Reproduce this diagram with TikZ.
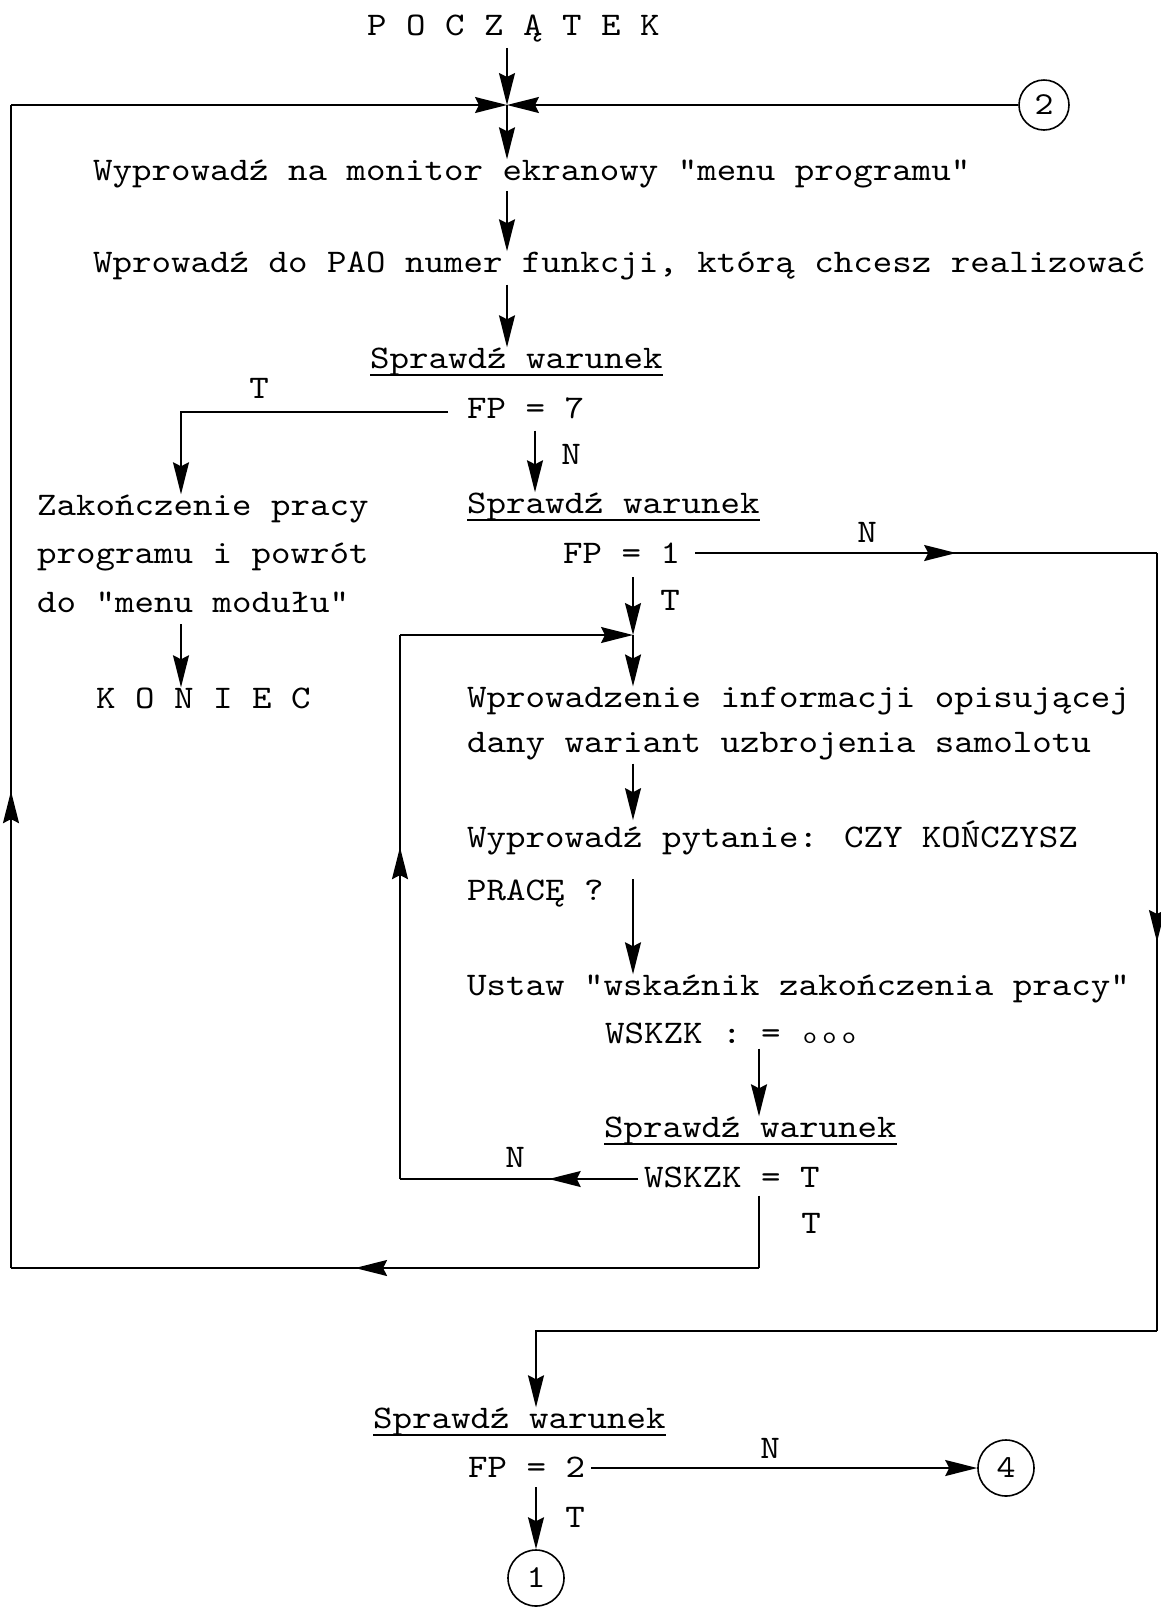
\documentclass[tikz,border=0pt]{standalone}
\usepackage{fontspec}
\newfontfamily\tw{lmmono10-regular.otf}[FakeStretch=1.125]
\usetikzlibrary{arrows.meta,decorations.markings,calc}
\newcommand\smo{\makebox[19.5pt]{\fontsize{24}{24}\selectfont o}}
\tikzset{
  >={Stealth[length=32pt,width=16pt,inset=4pt]},
  txt/.style={inner sep=0pt, anchor=base west, font=\tw\fontsize{33}{36}\selectfont},
  lbl/.style={inner sep=0pt, anchor=base, font=\tw\fontsize{33}{36}\selectfont},
  conn/.style={line width=1.6pt},
  uline/.style={line width=2.6pt},
  midarr/.style={postaction={decorate,decoration={markings,mark=at position #1 with {\arrow{>}}}}},
  conncirc/.style={draw, circle, line width=1.6pt, inner sep=0pt, minimum size=#1, font=\tw\fontsize{32}{36}\selectfont},
}
\begin{document}
\begin{tikzpicture}[x=1pt,y=-1pt]
\path[use as bounding box, fill=white] (0,0) rectangle (1161,1607);

% ---------- text nodes ----------
\node[txt] (p) at (367,35) {P O C Z Ą T E K};
\node[conncirc=50pt] (c2) at (1044,105) {2};
\node[txt] (w1) at (93,180) {Wyprowadź na monitor ekranowy "menu programu"};
\node[txt] (w2) at (93,272) {Wprowadź do PAO numer funkcji, którą chcesz realizować};
\node[txt] (s1) at (370,368) {Sprawdź warunek};
\node[lbl] (t7) at (259,398) {T};
\node[txt] (fp7) at (467,418) {FP = 7};
\node[lbl] (n7) at (571,464) {N};
\node[txt] (zak1) at (37,515) {Zakończenie pracy};
\node[txt] (zak2) at (37,563) {programu i powrót};
\node[txt] (zak3) at (37,612) {do "menu modułu"};
\node[txt] (kon) at (96,708) {K O N I E C};
\node[txt] (s2) at (467,513) {Sprawdź warunek};
\node[lbl] (n1) at (867,542) {N};
\node[txt] (fp1) at (563,563) {FP = 1};
\node[lbl] (t1) at (670,610) {T};
\node[txt] (wp1) at (467,707) {Wprowadzenie informacji opisującej};
\node[txt] (wp2) at (467,752) {dany wariant uzbrojenia samolotu};
\node[txt] (q1) at (467,847) {Wyprowadź pytanie: CZY KOŃCZYSZ};
\node[txt] (q2) at (467,900) {PRACĘ ?};
\node[txt] (u1) at (467,995) {Ustaw "wskaźnik zakończenia pracy"};
\node[txt] (u2) at (605,1043) {WSKZK : = \smo\smo\smo};
\node[txt] (s3) at (604,1137) {Sprawdź warunek};
\node[lbl] (n3) at (515,1167) {N};
\node[txt] (wsk) at (644,1187) {WSKZK = T};
\node[lbl] (t3) at (811,1233) {T};
\node[txt] (s4) at (373,1428) {Sprawdź warunek};
\node[lbl] (n4) at (770,1458) {N};
\node[txt] (fp2) at (468,1477) {FP = 2};
\node[lbl] (t4) at (575,1527) {T};
\node[conncirc=56pt] (c4) at (1006,1468) {4};
\node[conncirc=56pt] (c1) at (536,1578) {1};

% underlines
\foreach \s in {s1,s2,s3,s4}
  \draw[uline] ([yshift=-7pt]\s.base west) -- ([yshift=-7pt]\s.base east);

% ---------- coordinates ----------
\coordinate (j1) at (507,105);
\coordinate (cL1) at (11,105);
\coordinate (cL2) at (11,1268);
\coordinate (cB) at (759,1268);
\coordinate (cT7) at (181,412);
\coordinate (xN7) at (535,412);
\coordinate (cR1) at (1157,553);
\coordinate (cR2) at (1157,1331);
\coordinate (cR3) at (536,1331);
\coordinate (j2) at (633,635);
\coordinate (cLp1) at (400,1179);
\coordinate (cLp2) at (400,635);

% ---------- connectors ----------
\draw[conn,->,shorten <=6pt] (p.south -| j1) -- (j1);
\draw[conn,->] (c2.west |- j1) -- (j1);
\draw[conn,->] (cL1) -- (j1);
\draw[conn,->] (j1) -- (w1.north -| j1);
\draw[conn,->,shorten <=3pt] (w1.south -| j1) -- (w2.north -| j1);
\draw[conn,->,shorten <=5pt] (w2.south -| j1) -- (s1.north -| j1);

\draw[conn,->,shorten <=19pt] (fp7.west |- cT7) -- (cT7) -- (zak1.north -| cT7);
\draw[conn,->,shorten <=12pt] (fp7.south -| xN7) -- (s2.north -| xN7);
\draw[conn,->,shorten <=12pt] (zak3.south -| cT7) -- (kon.north -| cT7);

\draw[conn,midarr=0.565] ([xshift=15pt]fp1.east |- cR1) -- (cR1);
\draw[conn,midarr=0.5] (cR1) -- (cR2);
\draw[conn,->] (cR2) -- (cR3) -- (s4.north -| cR3);

\draw[conn,->,shorten <=14pt] (fp1.south -| j2) -- (j2);
\draw[conn,midarr=0.375] ([xshift=-6pt]wsk.west |- cLp1) -- (cLp1);
\draw[conn,midarr=0.61] (cLp1) -- (cLp2);
\draw[conn,->] (cLp2) -- (j2);
\draw[conn,->] (j2) -- (wp1.north -| j2);
\draw[conn,->,shorten <=4pt] (wp2.south -| j2) -- (q1.north -| j2);
\draw[conn,->] (q2.north -| j2) -- (u1.north -| j2);
\draw[conn,->,shorten <=5pt] (u2.south -| cB) -- (s3.north -| cB);

\draw[conn,shorten <=8pt] (wsk.south -| cB) -- (cB);
\draw[conn,midarr=0.54] (cB) -- (cL2);
\draw[conn,midarr=0.41] (cL2) -- (cL1);

\draw[conn,->,shorten <=6pt] (fp2.east |- c4) -- (c4.west);
\draw[conn,->,shorten <=10pt] (fp2.south -| c1) -- (c1.north);
\end{tikzpicture}
\end{document}
